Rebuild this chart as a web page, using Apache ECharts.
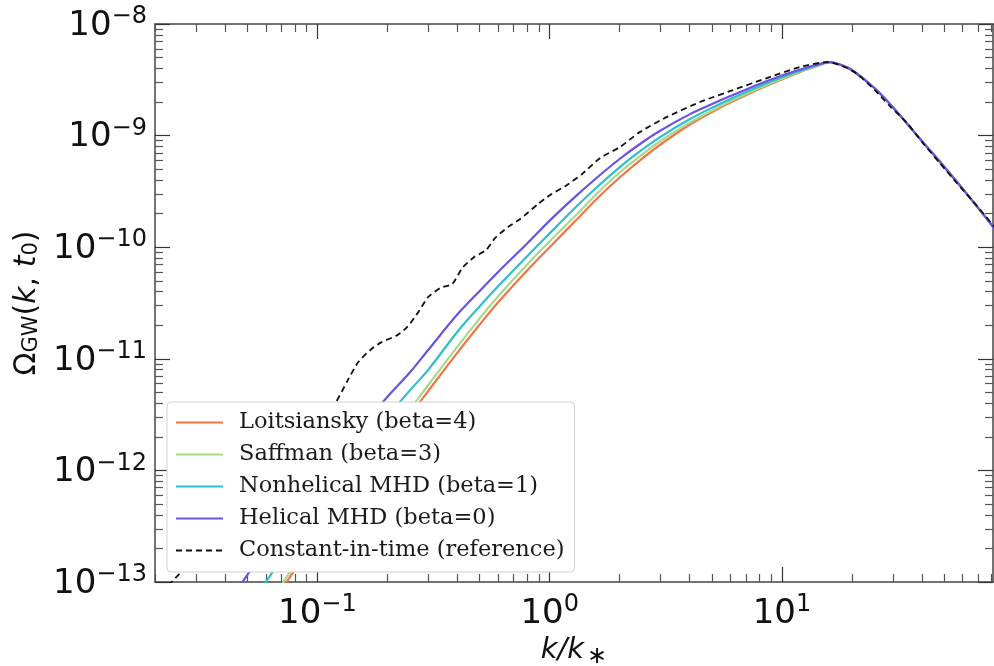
<!DOCTYPE html>
<html>
<head>
<meta charset="utf-8">
<title>Omega_GW spectra</title>
<script src="https://cdn.jsdelivr.net/npm/echarts@6/dist/echarts.min.js"></script>
<style>
  html, body { margin: 0; padding: 0; background: #fff; }
  #chart-container { width: 994px; height: 666px; }
</style>
</head>
<body>
<div id="chart-container"></div>
<script>
// k/k* grid shared by the four turbulence models
const kGrid = [0.02, 0.03, 0.04, 0.05, 0.06, 0.08, 0.1, 0.12, 0.15, 0.2, 0.25, 0.3, 0.4, 0.5, 0.6, 0.8,
  1, 1.3, 1.6, 2, 2.5, 3, 4, 5, 6, 8, 10, 12, 14, 16, 18, 20, 25, 30, 40, 50, 60, 80, 85];

const loitsiansky = [1.46e-15, 5.40e-15, 1.41e-14, 2.88e-14, 5.18e-14, 1.29e-13, 2.52e-13, 4.33e-13, 8.15e-13,
  1.77e-12, 3.12e-12, 5.14e-12, 1.13e-11, 2.03e-11, 3.21e-11, 6.19e-11, 1.00e-10, 1.75e-10, 2.73e-10, 4.21e-10,
  6.23e-10, 8.32e-10, 1.25e-9, 1.63e-9, 1.98e-9, 2.62e-9, 3.18e-9, 3.72e-9, 4.16e-9, 4.56e-9, 4.29e-9, 3.87e-9,
  2.67e-9, 1.80e-9, 8.95e-10, 5.24e-10, 3.33e-10, 1.58e-10, 1.30e-10];

const saffman = [1.62e-15, 5.99e-15, 1.56e-14, 3.19e-14, 5.74e-14, 1.43e-13, 2.79e-13, 4.90e-13, 9.23e-13,
  2.00e-12, 3.53e-12, 5.82e-12, 1.28e-11, 2.30e-11, 3.63e-11, 7.01e-11, 1.13e-10, 1.94e-10, 3.03e-10, 4.67e-10,
  6.77e-10, 8.95e-10, 1.30e-9, 1.68e-9, 2.03e-9, 2.67e-9, 3.24e-9, 3.75e-9, 4.19e-9, 4.56e-9, 4.29e-9, 3.87e-9,
  2.67e-9, 1.80e-9, 8.95e-10, 5.24e-10, 3.33e-10, 1.58e-10, 1.30e-10];

const nonhelical = [3.06e-15, 1.13e-14, 2.88e-14, 5.79e-14, 1.00e-13, 2.42e-13, 4.66e-13, 7.80e-13, 1.43e-12,
  3.01e-12, 5.21e-12, 7.96e-12, 1.74e-11, 2.96e-11, 4.47e-11, 8.30e-11, 1.33e-10, 2.30e-10, 3.46e-10, 5.20e-10,
  7.47e-10, 9.75e-10, 1.40e-9, 1.78e-9, 2.13e-9, 2.77e-9, 3.33e-9, 3.82e-9, 4.23e-9, 4.56e-9, 4.29e-9, 3.87e-9,
  2.67e-9, 1.80e-9, 8.95e-10, 5.24e-10, 3.33e-10, 1.58e-10, 1.30e-10];

const helical = [6.56e-15, 2.42e-14, 5.97e-14, 1.16e-13, 1.98e-13, 4.47e-13, 8.15e-13, 1.31e-12, 2.29e-12,
  4.55e-12, 7.53e-12, 1.20e-11, 2.49e-11, 4.06e-11, 6.00e-11, 1.08e-10, 1.73e-10, 2.88e-10, 4.21e-10, 6.17e-10,
  8.67e-10, 1.11e-9, 1.55e-9, 1.92e-9, 2.26e-9, 2.90e-9, 3.46e-9, 3.91e-9, 4.29e-9, 4.56e-9, 4.29e-9, 3.87e-9,
  2.67e-9, 1.80e-9, 8.95e-10, 5.24e-10, 3.33e-10, 1.58e-10, 1.30e-10];

// constant-in-time reference curve (its own k samples, it wiggles)
const kRef = [0.02, 0.0236, 0.0383, 0.0569, 0.0845, 0.1195, 0.1346, 0.150, 0.169, 0.1866, 0.221, 0.244, 0.272,
  0.300, 0.338, 0.381, 0.4205, 0.4735, 0.533, 0.583, 0.663, 0.747, 0.892, 1.005, 1.189, 1.380, 1.649, 2.01, 2.45,
  3.20, 4.44, 6.16, 8.62, 11.95, 15.77, 18.11, 20.81, 25.1, 29.14, 34.5, 40.4, 47.8, 56.6, 66.3, 81.6, 85];
const constantRef = [6.90e-14, 1.00e-13, 2.92e-13, 6.67e-13, 1.69e-12, 4.02e-12, 6.32e-12, 9.35e-12, 1.20e-11,
  1.39e-11, 1.63e-11, 1.93e-11, 2.62e-11, 3.58e-11, 4.31e-11, 4.68e-11, 6.52e-11, 8.17e-11, 9.44e-11, 1.21e-10,
  1.52e-10, 1.79e-10, 2.44e-10, 2.94e-10, 3.61e-10, 4.53e-10, 6.30e-10, 7.91e-10, 1.08e-9, 1.47e-9, 2.00e-9,
  2.56e-9, 3.28e-9, 4.12e-9, 4.57e-9, 4.21e-9, 3.64e-9, 2.56e-9, 1.84e-9, 1.30e-9, 8.59e-10, 5.68e-10, 3.76e-10,
  2.59e-10, 1.55e-10, 1.36e-10];

const seriesNames = ['Loitsiansky (beta=4)', 'Saffman (beta=3)', 'Nonhelical MHD (beta=1)',
  'Helical MHD (beta=0)', 'Constant-in-time (reference)'];
const seriesColors = ['#ee7744', '#a6d88e', '#2fbfc8', '#6a52e4', '#111111'];

const xMajorTicks = [0.1, 1, 10];
const yMajorTicks = [1e-13, 1e-12, 1e-11, 1e-10, 1e-9, 1e-8];
const xMin = 0.02, xMax = 81;
const yMin = 1e-13, yMax = 1e-8;

function minorTicks(lo, hi) {
  var out = [];
  for (var d = -15; d <= 3; d++) {
    for (var m = 2; m <= 9; m++) {
      var v = Number((m * Math.pow(10, d)).toPrecision(3));
      if (v >= lo && v <= hi) out.push(v);
    }
  }
  return out;
}
const xMinorTicks = minorTicks(xMin, xMax);
const yMinorTicks = minorTicks(yMin, yMax);

function pairs(xs, ys) {
  return xs.map(function (x, i) { return [x, ys[i]]; });
}

function powLabel(v) {
  var e = Math.round(Math.log10(v));
  return '{b|10}{s|' + (e < 0 ? '\u2212' + (-e) : e) + '}';
}

var labelRich = {
  b: { fontFamily: 'DejaVu Sans', fontSize: 34, color: '#111', verticalAlign: 'bottom', padding: [4, 0, 0, 0] },
  s: { fontFamily: 'DejaVu Sans', fontSize: 24, color: '#111', verticalAlign: 'top' }
};

var spineColor = '#444';

function makeAxis(kind, pos, major, opts) {
  var isX = kind === 'x';
  var ax = {
    type: 'log',
    gridIndex: 0,
    position: pos,
    min: isX ? xMin : yMin,
    max: isX ? xMax : yMax,
    axisLine: { show: major, lineStyle: { color: spineColor, width: 1.5 } },
    axisTick: {
      show: true,
      inside: true,
      length: major ? 15 : 8,
      customValues: major ? (isX ? xMajorTicks : yMajorTicks) : (isX ? xMinorTicks : yMinorTicks),
      lineStyle: { color: major ? '#333' : '#555', width: 1.2 }
    },
    axisLabel: { show: false },
    splitLine: { show: false },
    minorTick: { show: false },
    minorSplitLine: { show: false },
    axisPointer: { show: false },
    silent: true
  };
  return Object.assign(ax, opts || {});
}

var dom = document.getElementById('chart-container');
var myChart = echarts.init(dom, null, { renderer: 'canvas' });
var option;

option = {
  animation: false,
  backgroundColor: '#fff',
  grid: { left: 155, right: 1, top: 24, bottom: 84, containLabel: false, outerBoundsMode: 'none' },
  legend: {
    orient: 'vertical',
    left: 167,
    top: 402,
    padding: [9, 10, 10, 8],
    itemGap: 9,
    itemWidth: 47,
    itemHeight: 22,
    backgroundColor: '#fff',
    borderColor: '#d0d0d0',
    borderWidth: 1,
    borderRadius: 4,
    itemStyle: { opacity: 0 },
    textStyle: { fontFamily: 'DejaVu Serif', fontSize: 22.5, color: '#1a1a1a', padding: [0, 0, 0, 11] },
    data: seriesNames
  },
  xAxis: [
    makeAxis('x', 'bottom', true, {
      axisLabel: {
        show: true,
        customValues: xMajorTicks,
        formatter: powLabel,
        margin: 11,
        rich: labelRich
      },
      name: '{i|k}{t|/}{i|k}{s|\u2217}',
      nameLocation: 'middle',
      nameGap: 50,
      nameTextStyle: {
        rich: {
          i: { fontFamily: 'DejaVu Sans', fontStyle: 'italic', fontSize: 29, color: '#111' },
          t: { fontFamily: 'DejaVu Sans', fontStyle: 'italic', fontSize: 29, color: '#111' },
          s: { fontFamily: 'DejaVu Sans', fontSize: 24, color: '#111', verticalAlign: 'bottom', padding: [12, 0, 0, 3] }
        }
      }
    }),
    makeAxis('x', 'bottom', false),
    makeAxis('x', 'top', true),
    makeAxis('x', 'top', false)
  ],
  yAxis: [
    makeAxis('y', 'left', true, {
      axisLabel: {
        show: true,
        customValues: yMajorTicks,
        formatter: powLabel,
        margin: 8,
        rich: labelRich
      },
      name: '{o|\u03a9}{g|GW}{p|(}{i|k}{p|, }{i|t}{z|0}{p|)}',
      nameLocation: 'middle',
      nameGap: 111,
      nameRotate: 90,
      nameTextStyle: {
        rich: {
          o: { fontFamily: 'DejaVu Sans', fontSize: 30, color: '#111' },
          p: { fontFamily: 'DejaVu Sans', fontSize: 30, color: '#111' },
          i: { fontFamily: 'DejaVu Sans', fontStyle: 'italic', fontSize: 30, color: '#111' },
          g: { fontFamily: 'DejaVu Sans', fontSize: 21, color: '#111', verticalAlign: 'bottom', padding: [9, 0, 0, 0] },
          z: { fontFamily: 'DejaVu Sans', fontSize: 21, color: '#111', verticalAlign: 'bottom', padding: [9, 0, 0, 0] }
        }
      }
    }),
    makeAxis('y', 'left', false),
    makeAxis('y', 'right', true),
    makeAxis('y', 'right', false)
  ],
  series: [
    { name: seriesNames[0], data: pairs(kGrid, loitsiansky) },
    { name: seriesNames[1], data: pairs(kGrid, saffman) },
    { name: seriesNames[2], data: pairs(kGrid, nonhelical) },
    { name: seriesNames[3], data: pairs(kGrid, helical) },
    { name: seriesNames[4], data: pairs(kRef, constantRef), dashed: true }
  ].map(function (s, i) {
    return {
      name: s.name,
      type: 'line',
      xAxisIndex: 0,
      yAxisIndex: 0,
      data: s.data,
      smooth: s.dashed ? 0.2 : 0.3,
      symbol: 'none',
      clip: true,
      color: seriesColors[i],
      lineStyle: {
        color: seriesColors[i],
        width: s.dashed ? 1.8 : 2.2,
        type: s.dashed ? [6, 4] : 'solid'
      },
      emphasis: { disabled: true }
    };
  })
};

if (option && typeof option === 'object') {
  myChart.setOption(option);
}

window.addEventListener('resize', myChart.resize);
</script>
</body>
</html>
